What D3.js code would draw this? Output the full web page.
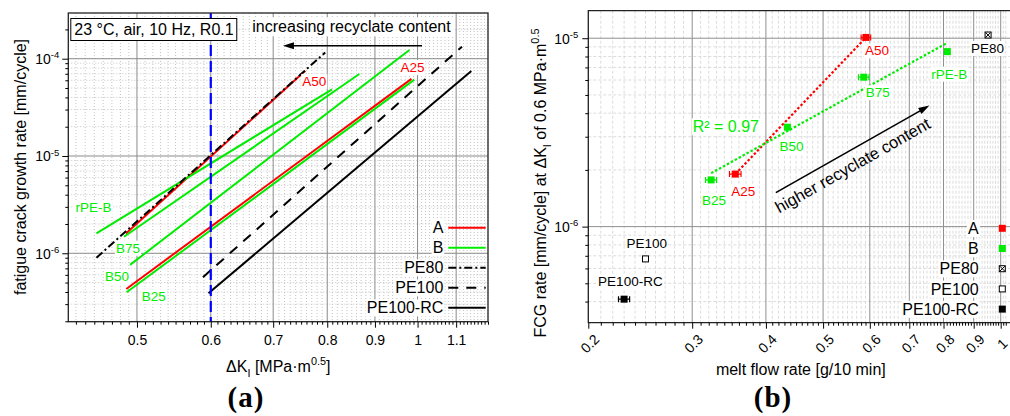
<!DOCTYPE html>
<html>
<head>
<meta charset="utf-8">
<script src="https://cdn.jsdelivr.net/npm/d3@7"></script>
<style>
  html, body { margin: 0; padding: 0; background: #fff; }
  svg { display: block; }
</style>
</head>
<body>
<svg id="fig" width="1010" height="416"></svg>
<script>
// ---------------- (a) fatigue crack growth curves ----------------
// each curve is a Paris-law segment (straight in log-log), given by its two end points
const curveNames     = ["A25", "A50", "B25", "B50", "B75", "rPE-B", "PE80", "PE100", "PE100-RC"];
const curveMaterial  = ["A", "A", "B", "B", "B", "B", "PE80", "PE100", "PE100-RC"];
const curveDKStart   = [0.487, 0.4866, 0.4874, 0.4915, 0.4842, 0.4524, 0.4524, 0.5885, 0.5966];
const curveDKEnd     = [0.985, 0.7577, 0.992, 0.980, 0.866, 0.8095, 0.796, 1.116, 1.142];
const curveRateStart = [4.3e-7, 1.6e-6, 3.97e-7, 7.6e-7, 1.48e-6, 1.6e-6, 9.0e-7, 5.67e-7, 3.88e-7];
const curveRateEnd   = [6.2e-5, 7.5e-5, 6.1e-5, 1.23e-4, 6.96e-5, 4.85e-5, 1.16e-4, 1.33e-4, 7.48e-5];
const referenceDK    = 0.6;

const dkDomain       = [0.422, 1.19];
const rateDomain     = [1.98e-7, 2.95e-4];
const dkMajorTicks   = [0.5, 0.6, 0.7, 0.8, 0.9, 1, 1.1];
const rateMajorTicks = [1e-6, 1e-5, 1e-4];

// ---------------- (b) FCG rate at ΔK = 0.6 MPa·m^0.5 vs. melt flow rate ----------------
const sampleNames    = ["A25", "A50", "B25", "B50", "B75", "rPE-B", "PE80", "PE100", "PE100-RC"];
const sampleMaterial = ["A", "A", "B", "B", "B", "B", "PE80", "PE100", "PE100-RC"];
const meltFlowRate   = [0.355, 0.591, 0.323, 0.435, 0.586, 0.812, 0.952, 0.250, 0.230];
const meltFlowErr    = [0.008, 0.011, 0.007, 0, 0.012, 0, 0, 0, 0.005];
const fcgRate06      = [1.90e-6, 1.01e-5, 1.77e-6, 3.37e-6, 6.21e-6, 8.49e-6, 1.04e-5, 6.74e-7, 4.12e-7];
const fitMaterials   = ["A", "B"];

const mfrDomain      = [0.2, 1.0];
const fcgDomain      = [3.09e-7, 1.4e-5];
const mfrMajorTicks  = [0.2, 0.3, 0.4, 0.5, 0.6, 0.7, 0.8, 0.9, 1];
const fcgMajorTicks  = [1e-6, 1e-5];

const legendItems    = ["A", "B", "PE80", "PE100", "PE100-RC"];

// ---------------- styles & layout ----------------
const FONT = '"Liberation Sans", Arial, Helvetica, sans-serif';
const GREEN = "#00ec00", RED = "#ff0000";
const matColor = { A: RED, B: GREEN, PE80: "#000", PE100: "#000", "PE100-RC": "#000" };
const matDash  = { A: null, B: null, PE80: "8,3,2,3", PE100: "10,8", "PE100-RC": null };

const boxA = { x0: 68.3, x1: 488, y0: 13, y1: 321.7 };
const boxB = { x0: 588.3, x1: 1000.7, xFrame: 1014, y0: 10.7, y1: 322.7 };

// label placement (left/baseline offset from the curve start or end point)
const curveLabelPos = {
  "A25":   { at: "end",   dx: -11, dy: -7 },
  "A50":   { at: "end",   dx: -3,  dy: 15 },
  "rPE-B": { at: "start", dx: -21, dy: -21 },
  "B75":   { at: "start", dx: -8,  dy: 16 },
  "B50":   { at: "start", dx: -25, dy: 16 },
  "B25":   { at: "start", dx: 15,  dy: 9 }
};
const pointLabelPos = {
  "A25": [-4, 22], "A50": [-1, 18], "B25": [-9, 25], "B50": [-8, 24], "B75": [2, 20],
  "rPE-B": [-16, 27], "PE80": [-17, 18], "PE100": [-19, -11], "PE100-RC": [-26, -13]
};

const svg = d3.select("#fig").attr("font-family", FONT);

// ---------------- helpers ----------------
function rich(textSel, parts, size) {
  let shift = 0;
  parts.forEach(p => {
    const target = p.sup ? -0.42 * size : p.sub ? 0.3 * size : 0;
    const ts = textSel.append("tspan").text(p.t).attr("dy", target - shift);
    if (p.sup || p.sub) ts.attr("font-size", size * 0.68);
    shift = target;
  });
  return textSel;
}
function bgText(g, x, y, str, opt = {}) {
  const grp = g.append("g");
  const rect = grp.append("rect").attr("fill", "#fff");
  const t = grp.append("text").attr("x", x).attr("y", y)
    .attr("font-size", opt.size || 14).attr("fill", opt.color || "#000")
    .attr("text-anchor", opt.anchor || "start");
  if (Array.isArray(str)) rich(t, str, opt.size || 14); else t.text(str);
  const b = t.node().getBBox(), p = opt.pad == null ? 1 : opt.pad;
  rect.attr("x", b.x - p).attr("y", b.y - p + 1).attr("width", b.width + 2 * p).attr("height", b.height + 2 * p - 2);
  return grp;
}
function arrow(g, x1, y1, x2, y2, len = 11, wid = 7) {
  const dx = x2 - x1, dy = y2 - y1, L = Math.hypot(dx, dy), ux = dx / L, uy = dy / L;
  g.append("line").attr("x1", x1).attr("y1", y1)
    .attr("x2", x2 - ux * len * 0.7).attr("y2", y2 - uy * len * 0.7)
    .attr("stroke", "#000").attr("stroke-width", 1.6);
  const bx = x2 - ux * len, by = y2 - uy * len;
  g.append("path").attr("fill", "#000")
    .attr("d", `M${x2},${y2}L${bx - uy * wid / 2},${by + ux * wid / 2}L${bx + uy * wid / 2},${by - ux * wid / 2}Z`);
}
function logMinors(domain, mantissas) {
  const out = [];
  const e0 = Math.floor(Math.log10(domain[0])) - 1, e1 = Math.ceil(Math.log10(domain[1]));
  for (let e = e0; e <= e1; e++) mantissas.forEach(m => {
    const v = m * Math.pow(10, e);
    if (v >= domain[0] && v <= domain[1]) out.push(v);
  });
  return out;
}
function drawMarker(g, mat, cx, cy, s = 7) {
  const h = s / 2;
  if (mat === "A" || mat === "B" || mat === "PE100-RC") {
    g.append("rect").attr("x", cx - h).attr("y", cy - h).attr("width", s).attr("height", s).attr("fill", matColor[mat]);
  } else {
    g.append("rect").attr("x", cx - h + 0.5).attr("y", cy - h + 0.5).attr("width", s - 1).attr("height", s - 1)
      .attr("fill", "#fff").attr("stroke", "#000").attr("stroke-width", 1);
    if (mat === "PE80") {
      g.append("path").attr("d", `M${cx - h + 1},${cy - h + 1}L${cx + h - 1},${cy + h - 1}M${cx + h - 1},${cy - h + 1}L${cx - h + 1},${cy + h - 1}`)
        .attr("stroke", "#000").attr("stroke-width", 1);
    }
  }
}
function expLabel(textSel, d, size) {
  textSel.text(null).attr("dy", null).attr("y", 5);
  rich(textSel, [{ t: "10" }, { t: String(Math.round(Math.log10(d))), sup: true }], size);
}

// ================= panel (a) =================
const xA = d3.scaleLog().domain(dkDomain).range([boxA.x0, boxA.x1]);
const yA = d3.scaleLog().domain(rateDomain).range([boxA.y1, boxA.y0]);
const gA = svg.append("g");
gA.append("clipPath").attr("id", "clipA").append("rect")
  .attr("x", boxA.x0).attr("y", boxA.y0).attr("width", boxA.x1 - boxA.x0).attr("height", boxA.y1 - boxA.y0);

const dkMinor = d3.range(43, 120).map(i => i / 100).filter(v => !dkMajorTicks.includes(v));
const rateMinor = logMinors(rateDomain, [2, 3, 4, 5, 6, 7, 8, 9]);

const gridA = gA.append("g");
gridA.selectAll(".vx").data(dkMinor).join("line")
  .attr("x1", d => xA(d)).attr("x2", d => xA(d)).attr("y1", boxA.y0).attr("y2", boxA.y1)
  .attr("stroke", "#c4c4c4").attr("stroke-dasharray", "1,2");
gridA.selectAll(".hy").data(rateMinor).join("line")
  .attr("y1", d => yA(d)).attr("y2", d => yA(d)).attr("x1", boxA.x0).attr("x2", boxA.x1)
  .attr("stroke", "#c4c4c4").attr("stroke-dasharray", "1,2");
gridA.selectAll(".vX").data(dkMajorTicks).join("line")
  .attr("x1", d => xA(d)).attr("x2", d => xA(d)).attr("y1", boxA.y0).attr("y2", boxA.y1)
  .attr("stroke", "#8a8a8a");
gridA.selectAll(".hY").data(rateMajorTicks).join("line")
  .attr("y1", d => yA(d)).attr("y2", d => yA(d)).attr("x1", boxA.x0).attr("x2", boxA.x1)
  .attr("stroke", "#8a8a8a");

// curves
const curveLine = d3.line().x(d => xA(d[0])).y(d => yA(d[1]));
const curves = curveNames.map((n, i) => ({
  name: n, mat: curveMaterial[i],
  pts: [[curveDKStart[i], curveRateStart[i]], [curveDKEnd[i], curveRateEnd[i]]]
}));
gA.append("g").attr("clip-path", "url(#clipA)").selectAll("path").data(curves).join("path")
  .attr("d", d => curveLine(d.pts)).attr("fill", "none")
  .attr("stroke", d => matColor[d.mat]).attr("stroke-width", 2)
  .attr("stroke-dasharray", d => matDash[d.mat]);

// reference ΔK line
gA.append("line").attr("x1", xA(referenceDK)).attr("x2", xA(referenceDK))
  .attr("y1", boxA.y0).attr("y2", boxA.y1)
  .attr("stroke", "#0000ff").attr("stroke-width", 2.2).attr("stroke-dasharray", "11,5");

// curve labels
curves.filter(c => curveLabelPos[c.name]).forEach(c => {
  const lp = curveLabelPos[c.name];
  const p = lp.at === "end" ? c.pts[1] : c.pts[0];
  bgText(gA, xA(p[0]) + lp.dx, yA(p[1]) + lp.dy, c.name, { size: 13.5, color: matColor[c.mat] });
});

// condition box
{
  const grp = gA.append("g");
  const r = grp.append("rect").attr("fill", "#fff").attr("stroke", "#000").attr("stroke-width", 1);
  const t = grp.append("text").attr("x", boxA.x0 + 6).attr("y", boxA.y0 + 22).attr("font-size", 16)
    .text("23 °C, air, 10 Hz, R0.1");
  const b = t.node().getBBox();
  r.attr("x", b.x - 3.5).attr("y", boxA.y0 + 5.5).attr("width", b.width + 6.5).attr("height", 22);
}
// recyclate arrow
bgText(gA, 252.3, 32.3, "increasing recyclate content", { size: 16, pad: 2 });
arrow(gA, xA(1.011), yA(1.36e-4), xA(0.7171), yA(1.36e-4), 11, 7);

// legend (a)
legendItems.forEach((m, i) => {
  const y = 227.7 + 20 * i;
  bgText(gA, 443.3, y + 5.7, m, { size: 16, anchor: "end", pad: 1 });
  gA.append("line").attr("x1", 448.3).attr("x2", 485.7).attr("y1", y).attr("y2", y)
    .attr("stroke", matColor[m]).attr("stroke-width", 2).attr("stroke-dasharray", matDash[m]);
});

// frame + axes (a)
gA.append("rect").attr("x", boxA.x0).attr("y", boxA.y0).attr("width", boxA.x1 - boxA.x0)
  .attr("height", boxA.y1 - boxA.y0).attr("fill", "none").attr("stroke", "#222").attr("stroke-width", 1.3);

gA.append("g").attr("transform", `translate(0,${boxA.y1})`)
  .call(d3.axisBottom(xA).tickValues(dkMinor).tickSize(3).tickFormat(""))
  .call(g => g.select(".domain").remove());
gA.append("g").attr("transform", `translate(0,${boxA.y1})`)
  .call(d3.axisBottom(xA).tickValues(dkMajorTicks).tickSize(6).tickPadding(7).tickFormat(d3.format("~g")))
  .call(g => g.select(".domain").remove())
  .attr("font-family", FONT).attr("font-size", 14);
gA.append("g").attr("transform", `translate(${boxA.x0},0)`)
  .call(d3.axisLeft(yA).tickValues(rateMinor).tickSize(3).tickFormat(""))
  .call(g => g.select(".domain").remove());
gA.append("g").attr("transform", `translate(${boxA.x0},0)`)
  .call(d3.axisLeft(yA).tickValues(rateMajorTicks).tickSize(6).tickPadding(3).tickFormat(d => d))
  .call(g => g.select(".domain").remove())
  .attr("font-family", FONT).attr("font-size", 14)
  .call(g => g.selectAll(".tick text").each(function (d) { expLabel(d3.select(this), d, 14); }));

rich(gA.append("text").attr("x", 278.3).attr("y", 371.7).attr("text-anchor", "middle").attr("font-size", 16),
  [{ t: "ΔK" }, { t: "I", sub: true }, { t: " [MPa·m" }, { t: "0.5", sup: true }, { t: "]" }], 16);
gA.append("text").attr("transform", "translate(25.5,167) rotate(-90)").attr("text-anchor", "middle")
  .attr("font-size", 16).text("fatigue crack growth rate [mm/cycle]");
gA.append("text").attr("x", 246).attr("y", 407).attr("text-anchor", "middle")
  .attr("font-family", '"Liberation Serif", "Times New Roman", serif').attr("font-weight", "bold")
  .attr("font-size", 29).attr("letter-spacing", 1).text("(a)");

// ================= panel (b) =================
const xB = d3.scaleLog().domain(mfrDomain).range([boxB.x0, boxB.x1]);
const yB = d3.scaleLog().domain(fcgDomain).range([boxB.y1, boxB.y0]);
const gB = svg.append("g");
gB.append("clipPath").attr("id", "clipB").append("rect")
  .attr("x", boxB.x0).attr("y", boxB.y0).attr("width", boxB.xFrame - boxB.x0).attr("height", boxB.y1 - boxB.y0);

const mfrMinor = d3.range(21, 103).map(i => i / 100).filter(v => !mfrMajorTicks.includes(v));
const fcgMinor = logMinors(fcgDomain, [2, 3, 4, 5, 6, 7, 8, 9]);

const gridB = gB.append("g").attr("clip-path", "url(#clipB)");
gridB.selectAll(".vx").data(mfrMinor).join("line")
  .attr("x1", d => xB(d)).attr("x2", d => xB(d)).attr("y1", boxB.y0).attr("y2", boxB.y1)
  .attr("stroke", "#dcdcdc").attr("stroke-dasharray", "3,2");
gridB.selectAll(".hy").data(fcgMinor).join("line")
  .attr("y1", d => yB(d)).attr("y2", d => yB(d)).attr("x1", boxB.x0).attr("x2", boxB.xFrame)
  .attr("stroke", "#dcdcdc").attr("stroke-dasharray", "3,2");
gridB.selectAll(".vX").data(mfrMajorTicks).join("line")
  .attr("x1", d => xB(d)).attr("x2", d => xB(d)).attr("y1", boxB.y0).attr("y2", boxB.y1)
  .attr("stroke", "#8f8f8f");
gridB.selectAll(".hY").data(fcgMajorTicks).join("line")
  .attr("y1", d => yB(d)).attr("y2", d => yB(d)).attr("x1", boxB.x0).attr("x2", boxB.xFrame)
  .attr("stroke", "#8f8f8f");

// power-law fits (linear regression in log-log space)
const samples = sampleNames.map((n, i) => ({
  name: n, mat: sampleMaterial[i], x: meltFlowRate[i], err: meltFlowErr[i], y: fcgRate06[i]
}));
const fits = fitMaterials.map(m => {
  const s = samples.filter(d => d.mat === m);
  const lx = s.map(d => Math.log10(d.x)), ly = s.map(d => Math.log10(d.y));
  const mx = d3.mean(lx), my = d3.mean(ly);
  let sxy = 0, sxx = 0, syy = 0;
  lx.forEach((v, i) => { sxy += (v - mx) * (ly[i] - my); sxx += (v - mx) ** 2; syy += (ly[i] - my) ** 2; });
  const slope = sxy / sxx, icpt = my - slope * mx;
  const x0 = d3.min(s, d => d.x), x1 = d3.max(s, d => d.x);
  return { mat: m, r2: sxy * sxy / (sxx * syy),
    pts: [x0, x1].map(x => [x, Math.pow(10, icpt + slope * Math.log10(x))]) };
});
const fitLine = d3.line().x(d => xB(d[0])).y(d => yB(d[1]));
gB.append("g").selectAll("path").data(fits).join("path")
  .attr("d", d => fitLine(d.pts)).attr("fill", "none")
  .attr("stroke", d => matColor[d.mat]).attr("stroke-width", 2.2).attr("stroke-dasharray", "2.5,2");

// error bars + markers
const gPts = gB.append("g");
samples.forEach(d => {
  const cx = xB(d.x), cy = yB(d.y);
  if (d.err > 0) {
    const xl = xB(d.x - d.err), xr = xB(d.x + d.err);
    gPts.append("path").attr("d", `M${xl},${cy}L${xr},${cy}M${xl},${cy - 3}L${xl},${cy + 3}M${xr},${cy - 3}L${xr},${cy + 3}`)
      .attr("stroke", matColor[d.mat]).attr("stroke-width", 1.2).attr("fill", "none");
  }
  drawMarker(gPts, d.mat, cx, cy, 7);
});
samples.forEach(d => {
  const o = pointLabelPos[d.name];
  bgText(gB, xB(d.x) + o[0], yB(d.y) + o[1], d.name, { size: 13.5, color: matColor[d.mat] });
});
const fitB = fits.find(f => f.mat === "B");
bgText(gB, 692.7, 132.3, "R² = " + fitB.r2.toFixed(2), { size: 16, color: GREEN });

// recyclate arrow (b)
{
  const p1 = [xB(0.4158), yB(1.516e-6)], p2 = [xB(0.7571), yB(4.39e-6)];
  arrow(gB, p1[0], p1[1], p2[0], p2[1], 11, 7);
  const ang = Math.atan2(p2[1] - p1[1], p2[0] - p1[0]);
  const ux = Math.cos(ang), uy = Math.sin(ang);
  const mx = (p1[0] + p2[0]) / 2 - ux * 8 - uy * 20, my = (p1[1] + p2[1]) / 2 - uy * 8 + ux * 20;
  gB.append("text").attr("transform", `translate(${mx},${my}) rotate(${ang * 180 / Math.PI})`)
    .attr("text-anchor", "middle").attr("font-size", 16.5).text("higher recyclate content");
}

// legend (b)
legendItems.forEach((m, i) => {
  const y = 228.3 + 20.2 * i;
  bgText(gB, 978.7, y + 5.7, m, { size: 16, anchor: "end", pad: 1 });
  drawMarker(gB, m, 1002.3, y, 7);
});

// frame + axes (b)
gB.append("path").attr("d", `M${boxB.xFrame},${boxB.y0}H${boxB.x0}V${boxB.y1}H${boxB.xFrame}`)
  .attr("fill", "none").attr("stroke", "#222").attr("stroke-width", 1.3);
gB.append("g").attr("transform", `translate(0,${boxB.y1})`)
  .call(d3.axisBottom(xB).tickValues(mfrMinor).tickSize(3).tickFormat(""))
  .call(g => g.select(".domain").remove());
gB.append("g").attr("transform", `translate(0,${boxB.y1})`)
  .call(d3.axisBottom(xB).tickValues(mfrMajorTicks).tickSize(6).tickFormat(d3.format("~g")))
  .call(g => g.select(".domain").remove())
  .attr("font-family", FONT).attr("font-size", 14)
  .call(g => g.selectAll(".tick text").attr("y", null).attr("dy", null)
    .attr("transform", "translate(1,21) rotate(-45)").attr("text-anchor", "middle")
    .attr("dominant-baseline", "central"));
gB.append("g").attr("transform", `translate(${boxB.x0},0)`)
  .call(d3.axisLeft(yB).tickValues(fcgMinor).tickSize(3).tickFormat(""))
  .call(g => g.select(".domain").remove());
gB.append("g").attr("transform", `translate(${boxB.x0},0)`)
  .call(d3.axisLeft(yB).tickValues(fcgMajorTicks).tickSize(6).tickPadding(4).tickFormat(d => d))
  .call(g => g.select(".domain").remove())
  .attr("font-family", FONT).attr("font-size", 14)
  .call(g => g.selectAll(".tick text").each(function (d) { expLabel(d3.select(this), d, 14); }));

gB.append("text").attr("x", 800.8).attr("y", 375).attr("text-anchor", "middle").attr("font-size", 16)
  .text("melt flow rate [g/10 min]");
rich(gB.append("text").attr("transform", "translate(546,183) rotate(-90)").attr("text-anchor", "middle").attr("font-size", 16),
  [{ t: "FCG rate [mm/cycle] at ΔK" }, { t: "I", sub: true }, { t: " of 0.6 MPa·m" }, { t: "0.5", sup: true }], 16);
gB.append("text").attr("x", 773).attr("y", 407).attr("text-anchor", "middle")
  .attr("font-family", '"Liberation Serif", "Times New Roman", serif').attr("font-weight", "bold")
  .attr("font-size", 29).attr("letter-spacing", 1).text("(b)");
</script>
</body>
</html>
